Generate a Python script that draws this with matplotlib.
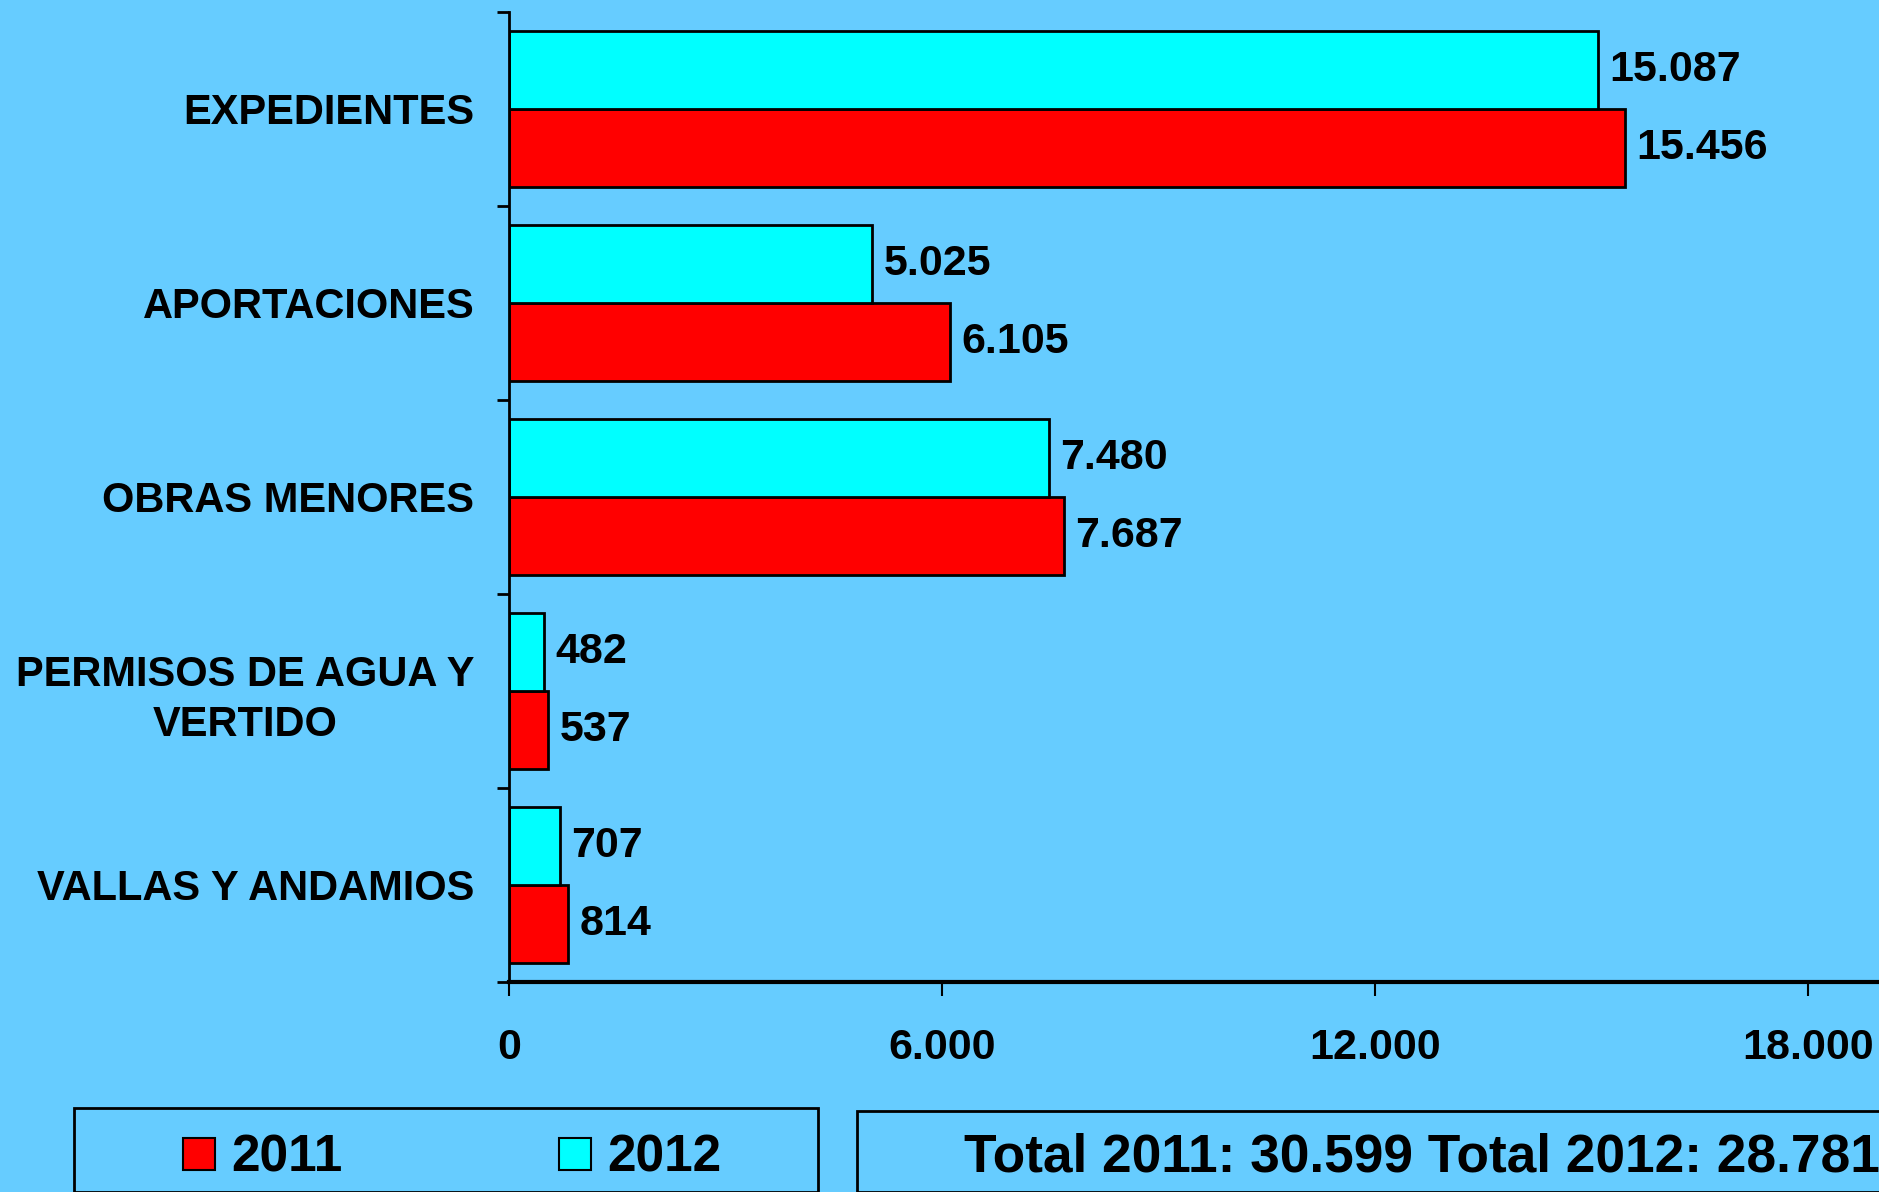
import numpy as np
import matplotlib
matplotlib.use("Agg")
from matplotlib import pyplot as plt
from matplotlib.patches import Rectangle

categories = ["EXPEDIENTES", "APORTACIONES", "OBRAS MENORES",
              "PERMISOS DE AGUA Y\nVERTIDO", "VALLAS Y ANDAMIOS"]
v2011 = [15456, 6105, 7687, 537, 814]
v2012 = [15087, 5025, 7480, 482, 707]
years = ["2011", "2012"]
xticks = [0, 6000, 12000, 18000]

bg = "#66CCFF"
c2011 = "#FF0000"
c2012 = "#00FFFF"

plt.rcParams["font.family"] = ["Liberation Sans", "DejaVu Sans"]
plt.rcParams["font.weight"] = "bold"


def fmt(v):
    return f"{v:,}".replace(",", ".")


fig = plt.figure(figsize=(18.79, 11.92), dpi=100, facecolor=bg)
ax = fig.add_axes([509 / 1879, 1 - 982 / 1192, 1 - 509 / 1879, (982 - 12) / 1192])
ax.set_facecolor(bg)

n = len(categories)
pos = np.arange(n)[::-1].astype(float)
h = 0.4
b1 = ax.barh(pos - h / 2, v2011, height=h, color=c2011, edgecolor="black", linewidth=2)
b2 = ax.barh(pos + h / 2, v2012, height=h, color=c2012, edgecolor="black", linewidth=2)

for bars, vals in ((b1, v2011), (b2, v2012)):
    for r, v in zip(bars, vals):
        ax.text(v + 160, r.get_y() + r.get_height() / 2, fmt(v), va="center",
                ha="left", fontsize=31, fontweight="bold")

ax.set_xlim(0, 18980)
ax.set_ylim(-0.5, n - 0.5)
ax.set_xticks(xticks)
ax.set_xticklabels([fmt(x) for x in xticks])
ax.set_yticks(pos)
ax.set_yticklabels(categories, multialignment="center", linespacing=1.3)
ax.set_yticks(np.arange(n + 1) - 0.5, minor=True)
ax.tick_params(axis="y", which="major", length=0, pad=25, labelsize=30)
ax.tick_params(axis="y", which="minor", length=9, width=2, direction="out")
ax.tick_params(axis="x", length=10, width=1.5, pad=23, labelsize=31)
for s in ("top", "right"):
    ax.spines[s].set_visible(False)
ax.spines["left"].set_linewidth(2)
ax.spines["bottom"].set_linewidth(3)

# legend box
W, H = 1879, 1192
fig.patches.append(Rectangle((74 / W, 0), (818 - 74) / W, 1 - 1108 / H,
                             transform=fig.transFigure, facecolor="none",
                             edgecolor="black", linewidth=2))
for x0, col, lab in ((183, c2011, years[0]), (559, c2012, years[1])):
    fig.patches.append(Rectangle((x0 / W, 1 - 1170 / H), 32 / W, 32 / H,
                                 transform=fig.transFigure, facecolor=col,
                                 edgecolor="black", linewidth=1.5))
    fig.text((x0 + 48) / W, 1 - 1158 / H, lab, va="center", ha="left",
             fontsize=37, fontweight="bold")

# totals box
fig.patches.append(Rectangle((857 / W, 0), (W - 857 + 20) / W, 1 - 1111 / H,
                             transform=fig.transFigure, facecolor="none",
                             edgecolor="black", linewidth=2))
fig.text(964 / W, 1 - 1158 / H,
         f"Total {years[0]}: {fmt(sum(v2011))} Total {years[1]}: {fmt(sum(v2012))}",
         va="center", ha="left", fontsize=38.3, fontweight="bold")

fig.savefig("out.png", dpi=100, facecolor=bg)
